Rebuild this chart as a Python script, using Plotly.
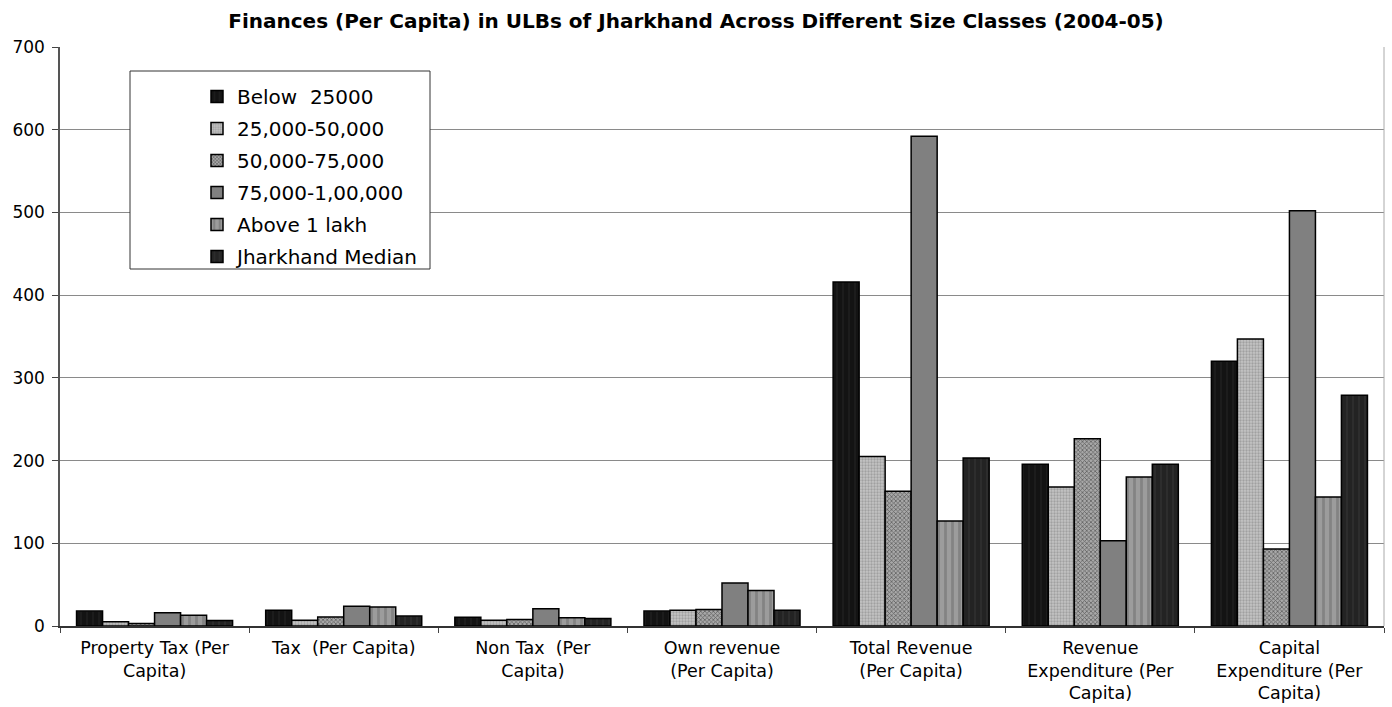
import plotly.graph_objects as go

categories = [
    "Property Tax (Per<br>Capita)",
    "Tax  (Per Capita)",
    "Non Tax  (Per<br>Capita)",
    "Own revenue<br>(Per Capita)",
    "Total Revenue<br>(Per Capita)",
    "Revenue<br>Expenditure (Per<br>Capita)",
    "Capital<br>Expenditure (Per<br>Capita)",
]

below_25000 = [18, 19, 10.5, 18, 416, 195.5, 320]
s25_50 = [5, 7, 7, 19, 205, 168, 347]
s50_75 = [3, 11, 8, 20, 163, 226.5, 93]
s75_100 = [16, 24, 21, 52, 592, 103, 502]
above_1_lakh = [13, 23, 10, 43, 127, 180, 156]
jharkhand_median = [6.5, 12, 9, 19, 203, 195.5, 279]

series = [
    ("Below  25000", below_25000, "#131313", "|", "#272727", 6, 0.3),
    ("25,000-50,000", s25_50, "#c4c4c4", ".", "#7c7c7c", 3, 0.45),
    ("50,000-75,000", s50_75, "#a8a8a8", "x", "#1a1a1a", 3, 0.45),
    ("75,000-1,00,000", s75_100, "#808080", "", "#808080", 6, 0.3),
    ("Above 1 lakh", above_1_lakh, "#9c9c9c", "|", "#6a6a6a", 7, 0.4),
    ("Jharkhand Median", jharkhand_median, "#232323", "|", "#383838", 6, 0.3),
]

fig = go.Figure()
for i, (name, vals, bg, shape, fg, size, sol) in enumerate(series):
    fig.add_trace(go.Bar(
        name=name, x=categories, y=vals, legendgroup=f"g{i}",
        marker=dict(
            color=bg,
            line=dict(color="#000000", width=1.5),
            pattern=dict(shape=shape, fgcolor=fg, bgcolor=bg, size=size, solidity=sol),
        ),
    ))

FONT = "DejaVu Sans, Arial, sans-serif"

fig.update_layout(
    width=1392, height=707,
    margin=dict(l=60, r=8, t=47, b=81),
    paper_bgcolor="white", plot_bgcolor="white",
    font=dict(family=FONT, size=18, color="#000"),
    title=dict(
        text="<b>Finances (Per Capita) in ULBs of Jharkhand Across Different Size Classes (2004-05)</b>",
        x=0.5, xanchor="center", y=0.971, yanchor="middle",
        font=dict(family=FONT, size=20, color="#000"),
    ),
    barmode="group", bargap=0.175, bargroupgap=0,
    showlegend=True,
    legend=dict(
        x=(197 - 60) / 1324, xanchor="left",
        y=(626 - 77) / 579, yanchor="top",
        bgcolor="rgba(0,0,0,0)", borderwidth=0,
        font=dict(family=FONT, size=20, color="#000"),
        tracegroupgap=3, itemwidth=30,
    ),
    xaxis=dict(
        tickson="boundaries", ticks="outside", ticklen=5, tickcolor="#444",
        showline=True, linecolor="#333", linewidth=1.5,
        tickfont=dict(family=FONT, size=17.5), showgrid=False,
        ticklabelstandoff=5, automargin=False,
    ),
    yaxis=dict(
        range=[0, 700], dtick=100, ticks="outside", ticklen=6, tickcolor="#444",
        showline=True, linecolor="#555", linewidth=1.5,
        gridcolor="#8a8a8a", gridwidth=1, zeroline=False,
        tickfont=dict(family=FONT, size=17), ticklabelstandoff=4,
        automargin=False,
    ),
    shapes=[
        dict(type="rect", xref="paper", yref="paper",
             x0=(130 - 60) / 1324, x1=(430 - 60) / 1324,
             y0=(626 - 269) / 579, y1=(626 - 71) / 579,
             line=dict(color="#333", width=1), fillcolor="white", layer="above"),
        dict(type="line", xref="paper", yref="paper", x0=1, x1=1, y0=0, y1=1,
             line=dict(color="#aaaaaa", width=1)),
    ],
)

fig.write_html("out.html", config={"displayModeBar": False},
               post_script="document.body.style.margin='0';")
